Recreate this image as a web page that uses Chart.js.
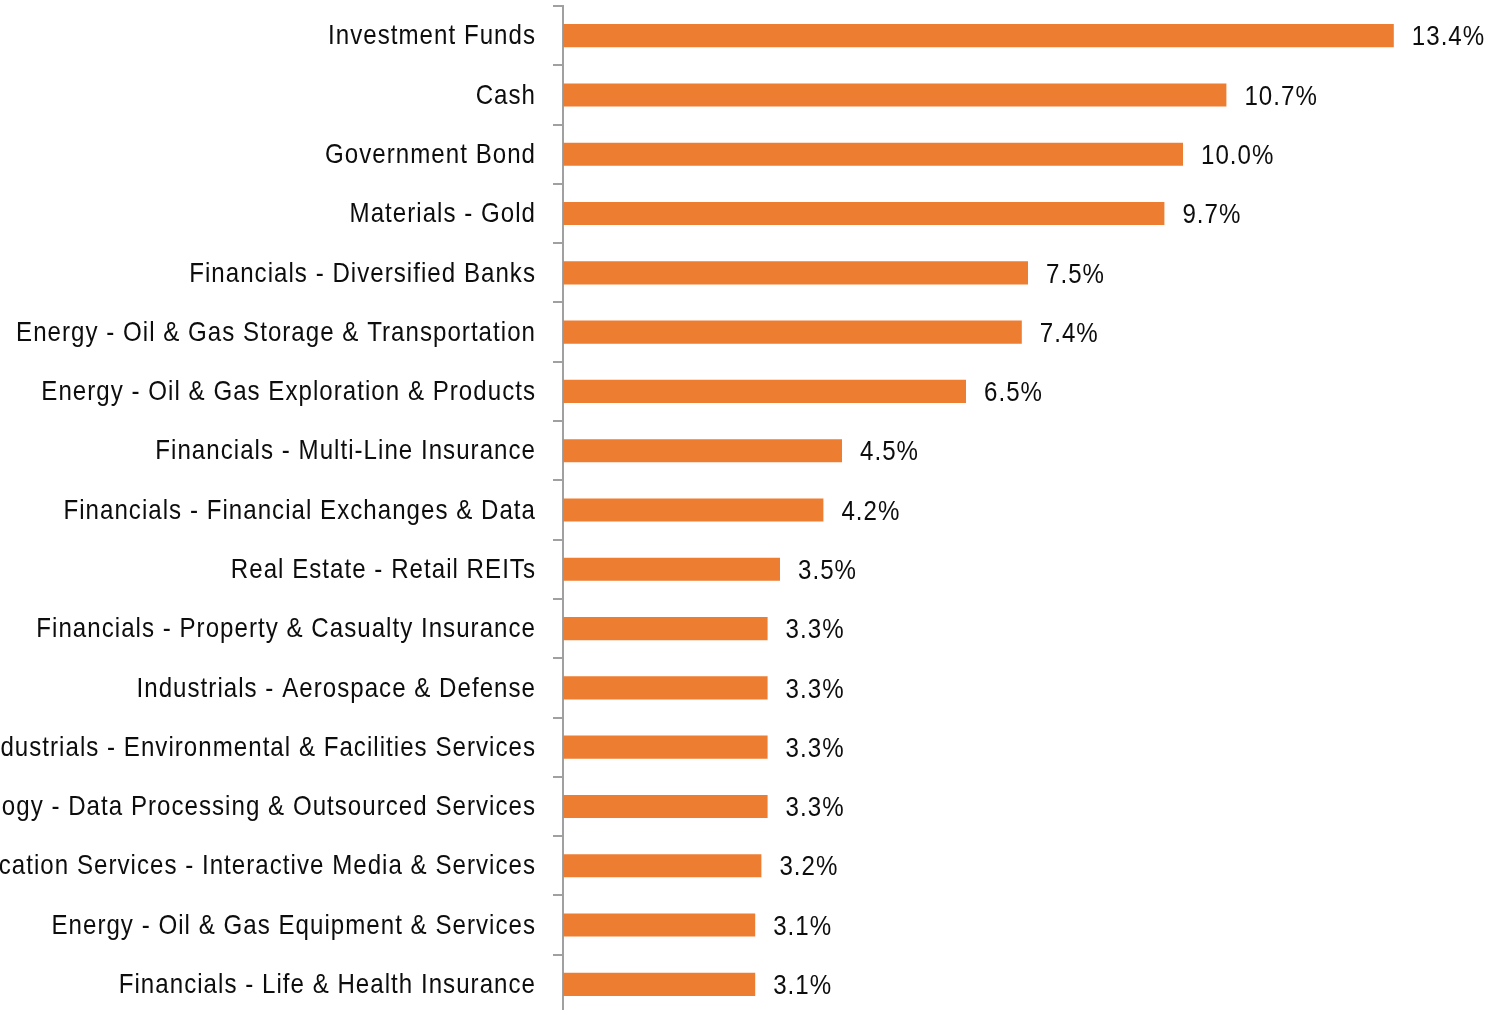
<!DOCTYPE html>
<html>
<head>
<meta charset="utf-8">
<script src="https://cdn.jsdelivr.net/npm/chart.js@4.4.1/dist/chart.umd.min.js"></script>
<style>
  html, body { margin: 0; padding: 0; background: #fff; overflow: hidden; width: 1486px; height: 1010px; }
  #wrap { position: absolute; left: -200px; top: 0; }
</style>
</head>
<body>
<div id="wrap"><canvas id="chart-holdings" width="1686" height="1020"></canvas></div>
<script>
// holdings breakdown, % of portfolio
const categories = [
  `Investment Funds`,
  `Cash`,
  `Government Bond`,
  `Materials - Gold`,
  `Financials - Diversified Banks`,
  `Energy - Oil & Gas Storage & Transportation`,
  `Energy - Oil & Gas Exploration & Products`,
  `Financials - Multi-Line Insurance`,
  `Financials - Financial Exchanges & Data`,
  `Real Estate - Retail REITs`,
  `Financials - Property & Casualty Insurance`,
  `Industrials - Aerospace & Defense`,
  `Industrials - Environmental & Facilities Services`,
  `Information Technology - Data Processing & Outsourced Services`,
  `Communication Services - Interactive Media & Services`,
  `Energy - Oil & Gas Equipment & Services`,
  `Financials - Life & Health Insurance`,
];
const weights = [13.4, 10.7, 10.0, 9.7, 7.5, 7.4, 6.5, 4.5, 4.2, 3.5, 3.3, 3.3, 3.3, 3.3, 3.2, 3.1, 3.1];
const valueLabels = [`13.4%`, `10.7%`, `10.0%`, `9.7%`, `7.5%`, `7.4%`, `6.5%`, `4.5%`, `4.2%`, `3.5%`, `3.3%`, `3.3%`, `3.3%`, `3.3%`, `3.2%`, `3.1%`, `3.1%`];

// condensed look: Liberation Sans squeezed horizontally, a bit of tracking
const FONT = `28px 'Liberation Sans', Arial, sans-serif`;
const SQUEEZE = 0.86;

function narrowText(ctx, text, x, y, align) {
  ctx.save();
  ctx.translate(x, y);
  ctx.scale(SQUEEZE, 1);
  ctx.letterSpacing = `1.2px`;
  ctx.textAlign = align;
  ctx.fillText(text, 0, 0);
  ctx.restore();
}

// category names left of the axis and values at the end of each bar
const barLabels = {
  id: `barLabels`,
  afterDatasetsDraw(chart) {
    const ctx = chart.ctx;
    const meta = chart.getDatasetMeta(0);
    const yScale = chart.scales.y;
    ctx.save();
    ctx.font = FONT;
    ctx.fillStyle = `#0d0d0d`;
    ctx.textBaseline = `middle`;
    meta.data.forEach((bar, i) => {
      narrowText(ctx, valueLabels[i], bar.x + 18, bar.y + 2, `left`);
      narrowText(ctx, categories[i], yScale.right - 27, yScale.getPixelForValue(i) + 1, `right`);
    });
    ctx.restore();
  }
};

const ctxHoldings = document.getElementById(`chart-holdings`);
const chartHoldings = new Chart(ctxHoldings, {
  type: `bar`,
  data: {
    labels: categories,
    datasets: [{
      data: weights,
      backgroundColor: `#ED7D31`,
      barPercentage: 0.39,
      categoryPercentage: 1,
    }]
  },
  options: {
    indexAxis: `y`,
    responsive: false,
    animation: false,
    devicePixelRatio: 1,
    layout: { padding: { top: 6, bottom: 6, left: 0, right: 55 } },
    plugins: {
      legend: { display: false },
      tooltip: { enabled: false },
    },
    scales: {
      x: {
        display: false,
        min: 0,
        max: 14,
      },
      y: {
        afterFit(scale) {
          scale.width = 763;
        },
        grid: {
          display: true,
          drawOnChartArea: false,
          offset: true,
          tickLength: 10,
          color: `#a0a0a0`,
          lineWidth: 2,
        },
        border: { color: `#a0a0a0`, width: 2 },
        ticks: { display: false }
      }
    }
  },
  plugins: [barLabels]
});
</script>
</body>
</html>
